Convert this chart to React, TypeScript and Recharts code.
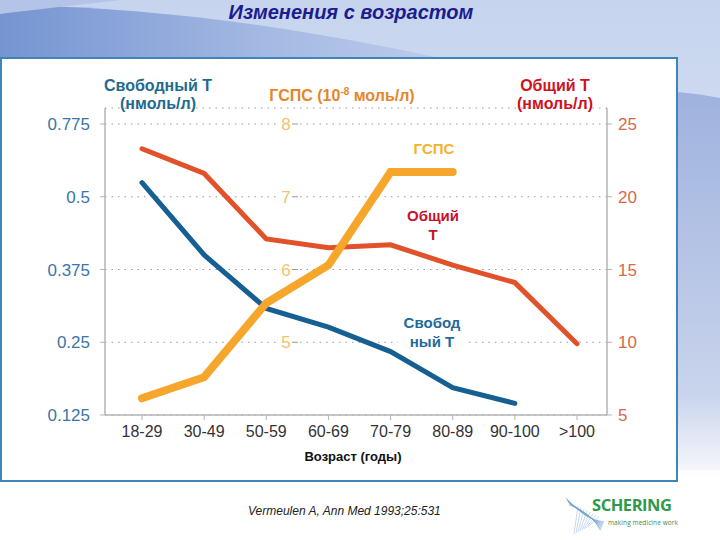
import React from 'react';
import { LineChart, Line, XAxis, YAxis, CartesianGrid, ReferenceLine } from 'recharts';

// age groups on the x axis
const ageGroups = ['18-29', '30-49', '50-59', '60-69', '70-79', '80-89', '90-100', '>100'];

// series values
const freeT = [0.553, 0.4, 0.308, 0.276, 0.234, 0.172, 0.145, null]; // нмоль/л
const shbg = [4.23, 4.52, 5.54, 6.06, 7.34, 7.34, null, null]; // 10^-8 моль/л
const totalT = [23.3, 21.6, 17.1, 16.5, 16.7, 15.3, 14.1, 9.9]; // нмоль/л

// tick labels
const freeTTicks = [0.125, 0.25, 0.375, 0.5, 0.775];
const shbgTicks = [5, 6, 7, 8];
const totalTTicks = [5, 10, 15, 20, 25];

const FONT = '"Liberation Sans", Arial, sans-serif';

// the free T axis is not linear: ticks are equally spaced, values interpolated between them
function freeTPos(v: number | null) {
  if (v == null) return null;
  for (let i = 0; i < freeTTicks.length - 1; i++) {
    const a = freeTTicks[i];
    const b = freeTTicks[i + 1];
    if (v <= b || i === freeTTicks.length - 2) return i + (v - a) / (b - a);
  }
  return null;
}

const data = ageGroups.map((age, i) => ({
  age,
  freeT: freeTPos(freeT[i]),
  shbg: shbg[i],
  totalT: totalT[i],
}));

const ShbgTick = (props: any) => {
  const { viewBox, value } = props;
  const x = viewBox.x + 181;
  const y = viewBox.y;
  return (
    <g>
      <rect x={x - 9} y={y - 10} width={18} height={20} fill="#fff" />
      <text x={x} y={y + 6} textAnchor="middle" fill="#f3c26a" fontSize={17} fontFamily={FONT}>
        {value}
      </text>
      <line x1={x + 6} x2={x + 12} y1={y} y2={y} stroke="#999" strokeWidth={1} />
    </g>
  );
};

function Background() {
  return (
    <svg width={720} height={540} style={{ position: 'absolute', left: 0, top: 0 }}>
      <defs>
        <linearGradient id="bgV" x1="0" y1="0" x2="0" y2="1">
          <stop offset="0" stopColor="#c6d4ee" />
          <stop offset="0.75" stopColor="#dfe7f5" />
          <stop offset="1" stopColor="#ffffff" />
        </linearGradient>
        <linearGradient id="waveH" x1="0" y1="0" x2="1" y2="0">
          <stop offset="0" stopColor="#7594d1" />
          <stop offset="0.6" stopColor="#a4b9e3" />
          <stop offset="1" stopColor="#bccbea" />
        </linearGradient>
        <linearGradient id="sideV" x1="0" y1="0" x2="0" y2="1">
          <stop offset="0" stopColor="#9fb2de" />
          <stop offset="0.8" stopColor="#c9d4ec" />
          <stop offset="1" stopColor="#f4f6fb" />
        </linearGradient>
      </defs>
      <rect x={0} y={0} width={720} height={540} fill="#ffffff" />
      <rect x={0} y={0} width={720} height={480} fill="url(#bgV)" />
      <path d="M0,6 C140,4 300,28 440,58 L0,58 Z" fill="url(#waveH)" />
      <path d="M0,0 L120,0 C70,6 30,10 0,14 Z" fill="#b3c4e8" />
      <path d="M676,92 C690,93 705,95 720,98 L720,470 L676,470 Z" fill="url(#sideV)" />
    </svg>
  );
}

function Logo() {
  const mesh = [];
  for (let i = 0; i < 8; i++) {
    mesh.push(
      <path
        key={'a' + i}
        d={`M${566 + i * 0.5},${498 + i} Q${585 + i},${520 - i} ${604 - i * 0.5},${522 + i * 1.2}`}
        stroke="#6f9fd0"
        strokeWidth={0.6}
        fill="none"
      />
    );
    mesh.push(
      <line key={'b' + i} x1={578 + i * 3} y1={506 + i * 1.5} x2={574 + i * 2} y2={534 - i} stroke="#8fb5dc" strokeWidth={0.5} />
    );
  }
  return (
    <svg width={720} height={540} style={{ position: 'absolute', left: 0, top: 0 }}>
      {mesh}
      <text x={592} y={511} fill="#2c9a48" fontSize={16.5} fontWeight="bold" fontFamily={'"Open Sans", "Noto Sans", sans-serif'} textLength={80}>
        SCHERING
      </text>
      <text x={608} y={525} fill="#3a8a55" fontSize={6.5} fontFamily={'"Open Sans", sans-serif'} textLength={70}>
        making medicine work
      </text>
    </svg>
  );
}

const abs = (x: number, y: number, extra: React.CSSProperties = {}): React.CSSProperties => ({
  position: 'absolute',
  left: x,
  top: y,
  fontFamily: FONT,
  whiteSpace: 'nowrap',
  ...extra,
});

export default function App() {
  return (
    <div style={{ position: 'absolute', left: 0, top: 0, width: 720, height: 540, overflow: 'hidden' }}>
      <Background />
      <div
        style={{
          position: 'absolute',
          left: 0,
          top: 57,
          width: 674,
          height: 421,
          background: '#ffffff',
          border: '2px solid #3f84bd',
        }}
      />
      <div style={{ position: 'absolute', left: 0, top: 0 }}>
        <LineChart width={720} height={540} data={data} margin={{ top: 108, right: 63, bottom: 95, left: 45 }}>
          <CartesianGrid
            yAxisId="total"
            horizontal
            vertical={false}
            stroke="#9a9a9a"
            strokeDasharray="1.5 5"
          />
          <XAxis
            dataKey="age"
            scale="point"
            padding={{ left: 37, right: 30 }}
            height={30}
            axisLine={{ stroke: '#b4b4b4', strokeWidth: 1.5 }}
            tickLine={{ stroke: '#b4b4b4' }}
            tickSize={5}
            tickMargin={6}
            tick={{ fill: '#333333', fontSize: 16, fontFamily: FONT }}
            interval={0}
          />
          <YAxis
            yAxisId="free"
            orientation="left"
            width={60}
            type="number"
            domain={[0, 4.22]}
            ticks={[0, 1, 2, 3, 4]}
            tickFormatter={(i: number) => String(freeTTicks[i])}
            axisLine={{ stroke: '#b4b4b4', strokeWidth: 1.5 }}
            tickLine={{ stroke: '#b4b4b4' }}
            tickSize={5}
            tickMargin={10}
            tick={{ fill: '#3b76a6', fontSize: 17, fontFamily: FONT }}
            allowDataOverflow
          />
          <YAxis
            yAxisId="total"
            orientation="right"
            width={50}
            type="number"
            domain={[5, 26.1]}
            ticks={totalTTicks}
            axisLine={{ stroke: '#b4b4b4', strokeWidth: 1.5 }}
            tickLine={{ stroke: '#b4b4b4' }}
            tickSize={5}
            tickMargin={6}
            tick={{ fill: '#d8684a', fontSize: 17, fontFamily: FONT }}
            allowDataOverflow
          />
          <YAxis yAxisId="shbg" hide type="number" domain={[4, 8.22]} allowDataOverflow />
          {shbgTicks.map((v) => (
            <ReferenceLine
              key={v}
              yAxisId="shbg"
              y={v}
              stroke="none"
              label={{ content: (p: any) => <ShbgTick {...p} value={v} /> }}
            />
          ))}
          <Line
            yAxisId="total"
            dataKey="totalT"
            stroke="#e2522a"
            strokeWidth={5}
            dot={false}
            isAnimationActive={false}
            strokeLinecap="round"
          />
          <Line
            yAxisId="free"
            dataKey="freeT"
            stroke="#155f92"
            strokeWidth={5}
            dot={false}
            isAnimationActive={false}
            strokeLinecap="round"
          />
          <Line
            yAxisId="shbg"
            dataKey="shbg"
            stroke="#f6a62b"
            strokeWidth={8}
            dot={false}
            isAnimationActive={false}
            strokeLinecap="round"
          />
        </LineChart>
      </div>

      {/* title */}
      <div style={abs(0, 1, { width: 702, textAlign: 'center', fontSize: 20, fontWeight: 'bold', fontStyle: 'italic', color: '#1c1c8f' })}>
        Изменения с возрастом
      </div>

      {/* axis titles */}
      <div style={abs(78, 77, { width: 160, textAlign: 'center', fontSize: 16, fontWeight: 'bold', color: '#1e6b90', lineHeight: '18px' })}>
        Свободный Т
        <br />
        (нмоль/л)
      </div>
      <div style={abs(242, 86, { width: 200, textAlign: 'center', fontSize: 16, fontWeight: 'bold', color: '#e5862a' })}>
        ГСПС (10<sup style={{ fontSize: 10 }}>-8</sup> моль/л)
      </div>
      <div style={abs(475, 77, { width: 160, textAlign: 'center', fontSize: 16, fontWeight: 'bold', color: '#d0111e', lineHeight: '18px' })}>
        Общий Т
        <br />
        (нмоль/л)
      </div>

      {/* series labels */}
      <div style={abs(384, 140, { width: 100, textAlign: 'center', fontSize: 15, fontWeight: 'bold', color: '#f3b22a' })}>ГСПС</div>
      <div style={abs(383, 206, { width: 100, textAlign: 'center', fontSize: 15, fontWeight: 'bold', color: '#c8112b', lineHeight: '19px' })}>
        Общий
        <br />Т
      </div>
      <div
        style={abs(398, 313, {
          width: 68,
          textAlign: 'center',
          fontSize: 15,
          fontWeight: 'bold',
          color: '#1f6b9c',
          lineHeight: '19px',
          background: '#ffffff',
        })}
      >
        Свобод
        <br />
        ный Т
      </div>

      {/* x axis title */}
      <div style={abs(253, 449, { width: 200, textAlign: 'center', fontSize: 13, fontWeight: 'bold', color: '#111' })}>
        Возраст (годы)
      </div>

      {/* source */}
      <div style={abs(248, 504, { fontSize: 12, fontStyle: 'italic', color: '#222' })}>Vermeulen A, Ann Med 1993;25:531</div>

      <Logo />
    </div>
  );
}
